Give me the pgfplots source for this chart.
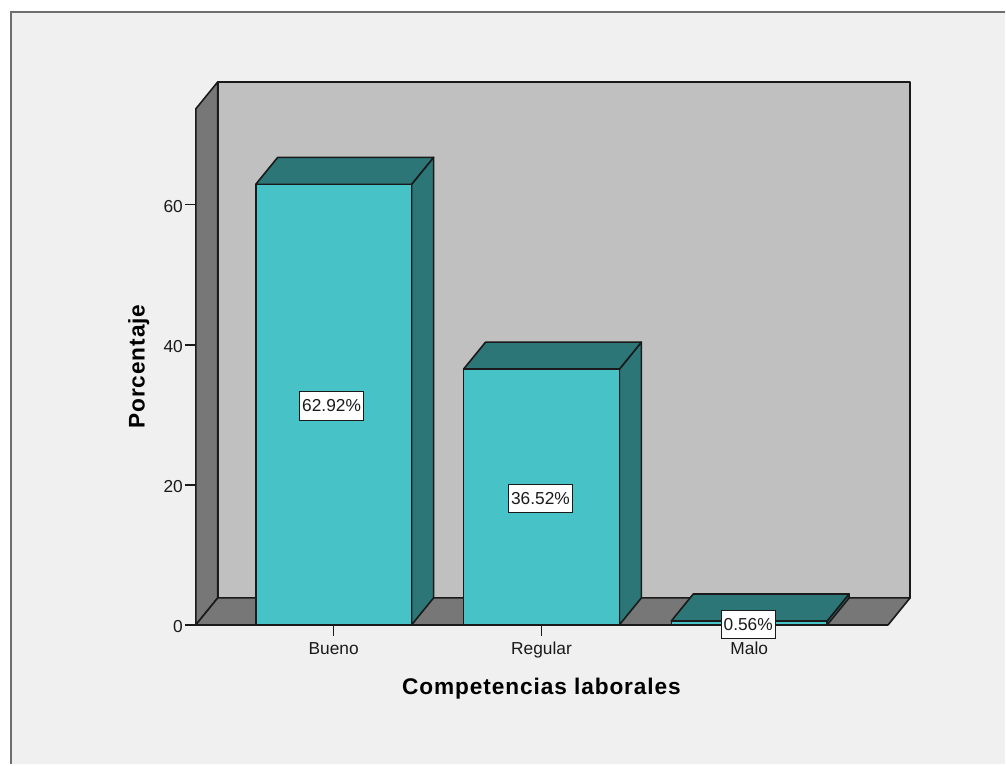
\documentclass[border=0pt]{standalone}
\usepackage{pgfplots}
\pgfplotsset{compat=1.18}
\usepackage{fontspec}
\setmainfont{Liberation Sans}
\definecolor{panel}{HTML}{F0F0F0}
\definecolor{framegray}{HTML}{6E6E6E}
\definecolor{wallback}{HTML}{C0C0C0}
\definecolor{wallside}{HTML}{777777}
\definecolor{barfront}{HTML}{47C2C7}
\definecolor{bardark}{HTML}{2D7678}
\definecolor{ink}{HTML}{1A1A1A}
\tikzset{
  shell/.style={draw=ink,line width=1.2pt,line join=round},
  valuebox/.style={fill=white,draw=ink,line width=0.6pt,inner xsep=2pt,inner ysep=0pt,
    minimum height=21.5pt,text=ink,font=\fontsize{13}{15}\selectfont},
}
\begin{document}
\begin{tikzpicture}[x=0.75pt,y=0.75pt]
  % chart panel and its frame
  \fill[white] (0,0) rectangle (1006,765);
  \fill[panel] (11,0) rectangle (1006,752);
  \draw[framegray,line width=1.5pt] (11,0) -- (11,752.5) -- (1006,752.5);
  \begin{axis}[
    at={(147pt,104.625pt)},anchor=south west,
    scale only axis,width=519.75pt,height=387.4pt,
    xmin=-0.6635,xmax=2.6683,ymin=0,ymax=73.7,
    clip=false,
    axis x line=bottom,axis y line=left,
    axis line style={-,draw=ink,line width=1.2pt},
    tick align=outside,
    major tick length=8pt,
    tick style={draw=ink,line width=1.1pt},
    xtick={0,1,2},xticklabels={Bueno,Regular,Malo},
    ytick={0,20,40,60},
    /pgf/number format/assume math mode=true,
    tick label style={font=\fontsize{13}{15}\selectfont,text=ink},
    xticklabel style={text height=9.5pt,text depth=0pt,yshift=-1pt},
    yticklabel style={xshift=1.8pt,yshift=-1.5pt},
    xlabel={\addfontfeature{LetterSpace=4}Competencias laborales},
    ylabel={\addfontfeature{LetterSpace=4}Porcentaje},
    every axis x label/.style={at={(axis cs:1.0,-9.1)},anchor=center,
      font=\fontsize{17}{20}\selectfont\bfseries,text=black},
    every axis y label/.style={at={(axis cs:-0.938,36.9)},anchor=center,rotate=90,
      font=\fontsize{17}{20}\selectfont\bfseries,text=black},
  ]
  % walls and floor of the box
  \addplot[shell,fill=wallback] coordinates {(-0.5577,3.853)(2.774,3.853)(2.774,77.553)(-0.5577,77.553)} -- cycle;
  \addplot[shell,fill=wallside] coordinates {(-0.6635,0)(-0.6635,73.7)(-0.5577,77.553)(-0.5577,3.853)} -- cycle;
  \addplot[shell,fill=wallside] coordinates {(-0.6635,0)(-0.5577,3.853)(2.774,3.853)(2.6683,0)} -- cycle;

  % Bueno 62.92
  \addplot[shell,fill=bardark] coordinates {(0.375,0)(0.4808,3.853)(0.4808,66.773)(0.375,62.92)} -- cycle;
  \addplot[shell,fill=bardark] coordinates {(-0.375,62.92)(-0.2692,66.773)(0.4808,66.773)(0.375,62.92)} -- cycle;
  \addplot[shell,fill=barfront] coordinates {(-0.375,0)(-0.375,62.92)(0.375,62.92)(0.375,0)} -- cycle;

  % Regular 36.52
  \addplot[shell,fill=bardark] coordinates {(1.375,0)(1.4808,3.853)(1.4808,40.373)(1.375,36.52)} -- cycle;
  \addplot[shell,fill=bardark] coordinates {(0.625,36.52)(0.7308,40.373)(1.4808,40.373)(1.375,36.52)} -- cycle;
  \addplot[shell,fill=barfront] coordinates {(0.625,0)(0.625,36.52)(1.375,36.52)(1.375,0)} -- cycle;

  % Malo 0.56
  \addplot[shell,fill=bardark] coordinates {(2.375,0)(2.4808,3.853)(2.4808,4.413)(2.375,0.56)} -- cycle;
  \addplot[shell,fill=bardark] coordinates {(1.625,0.56)(1.7308,4.413)(2.4808,4.413)(2.375,0.56)} -- cycle;
  \addplot[shell,fill=barfront] coordinates {(1.625,0)(1.625,0.56)(2.375,0.56)(2.375,0)} -- cycle;

  % value labels at half of each bar
  \node[valuebox,yshift=-1pt] at (axis cs:-0.01,31.46) {62.92\%};
  \node[valuebox,yshift=-1pt] at (axis cs:0.995,18.26) {36.52\%};
  \node[valuebox,yshift=-1pt] at (axis cs:1.995,0.28) {0.56\%};
  \end{axis}
\end{tikzpicture}
\end{document}
